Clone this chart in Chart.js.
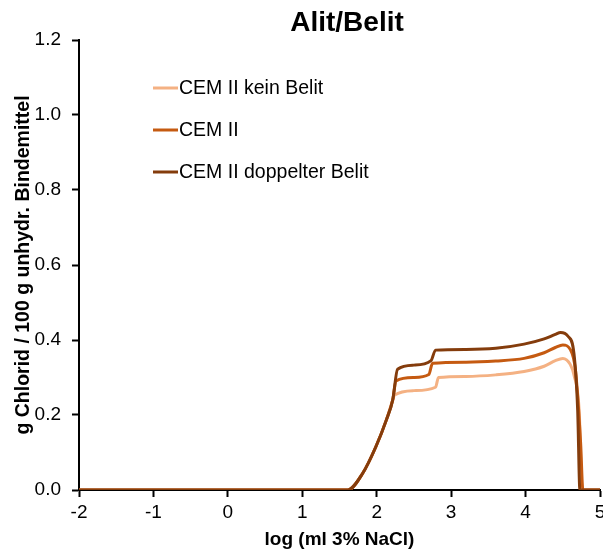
<!DOCTYPE html>
<html>
<head>
<meta charset="utf-8">
<script src="https://cdn.jsdelivr.net/npm/chart.js@4"></script>
<style>
  html, body { margin: 0; padding: 0; background: #fff; }
  #wrap { width: 603px; height: 551px; }
</style>
</head>
<body>
<div id="wrap"><canvas id="chlorid"></canvas></div>
<script>
// Chloridbindung ueber log(ml 3% NaCl)
const serienNamen = ["CEM II kein Belit", "CEM II", "CEM II doppelter Belit"];
const serienFarben = ["#F4B183", "#C55A11", "#843C0C"];

const xKeinBelit = [-2, 1.61, 1.81, 1.99, 2.13, 2.215, 2.24, 2.5, 2.79, 2.83, 3.2, 3.6, 3.98, 4.25, 4.4, 4.5, 4.6, 4.65, 4.72, 4.76, 5];
const yKeinBelit = [0, 0, 0.044, 0.116, 0.187, 0.24, 0.253, 0.265, 0.274, 0.30, 0.303, 0.307, 0.316, 0.33, 0.345, 0.351, 0.335, 0.307, 0.213, 0, 0];

const xCemII = [-2, 1.61, 1.81, 1.99, 2.13, 2.215, 2.26, 2.5, 2.70, 2.75, 3.2, 3.6, 3.98, 4.25, 4.4, 4.5, 4.6, 4.67, 4.74, 4.77, 5];
const yCemII = [0, 0, 0.044, 0.116, 0.187, 0.24, 0.291, 0.30, 0.308, 0.338, 0.341, 0.344, 0.351, 0.366, 0.38, 0.387, 0.375, 0.32, 0.124, 0, 0];

const xDoppelt = [-2, 1.61, 1.81, 1.99, 2.13, 2.215, 2.28, 2.5, 2.73, 2.79, 3.2, 3.6, 3.98, 4.25, 4.4, 4.47, 4.57, 4.65, 4.70, 4.73, 5];
const yDoppelt = [0, 0, 0.044, 0.116, 0.187, 0.24, 0.322, 0.333, 0.345, 0.373, 0.375, 0.378, 0.389, 0.403, 0.415, 0.42, 0.41, 0.364, 0.213, 0, 0];

const xTicks = [-2, -1, 0, 1, 2, 3, 4, 5];
const yTicks = [0, 0.2, 0.4, 0.6, 0.8, 1.0, 1.2];

const schrift = "'Liberation Sans', Arial, sans-serif";

function punkte(xs, ys) {
  return xs.map((x, i) => ({ x: x, y: ys[i] }));
}

// Titel und Legende direkt auf die Flaeche zeichnen
const beschriftung = {
  id: 'beschriftung',
  afterDraw(chart) {
    const ctx = chart.ctx;
    ctx.save();
    ctx.fillStyle = '#000';
    ctx.font = 'bold 28px ' + schrift;
    ctx.textAlign = 'center';
    ctx.textBaseline = 'middle';
    ctx.fillText('Alit/Belit', 347, 23);

    ctx.font = '19.5px ' + schrift;
    ctx.textAlign = 'left';
    chart.data.datasets.forEach((ds, i) => {
      const y = 88 + i * 42;
      ctx.strokeStyle = ds.borderColor;
      ctx.lineWidth = 3;
      ctx.beginPath();
      ctx.moveTo(153, y);
      ctx.lineTo(178, y);
      ctx.stroke();
      ctx.fillStyle = '#000';
      ctx.fillText(ds.label, 179, y + 1);
    });
    ctx.restore();
  }
};

const datensaetze = [
  [xKeinBelit, yKeinBelit],
  [xCemII, yCemII],
  [xDoppelt, yDoppelt]
].map((s, i) => ({
  label: serienNamen[i],
  data: punkte(s[0], s[1]),
  borderColor: serienFarben[i],
  backgroundColor: serienFarben[i],
  borderWidth: 3,
  pointRadius: 0,
  fill: false,
  cubicInterpolationMode: 'monotone',
  order: 2 - i
}));

new Chart(document.getElementById('chlorid'), {
  type: 'line',
  data: { datasets: datensaetze },
  options: {
    responsive: true,
    maintainAspectRatio: false,
    animation: false,
    layout: { padding: { top: 40, right: 3, left: 0, bottom: 0 } },
    plugins: {
      legend: { display: false },
      tooltip: { enabled: false }
    },
    scales: {
      x: {
        type: 'linear',
        min: -2,
        max: 5,
        afterBuildTicks(scale) { scale.ticks = xTicks.map(v => ({ value: v })); },
        afterFit(scale) { scale.height = 61; scale.paddingLeft = 0; scale.paddingRight = 0; },
        grid: { display: true, drawOnChartArea: false, drawTicks: true, tickLength: 7, tickColor: '#000', tickWidth: 2 },
        border: { display: true, color: '#000', width: 2 },
        ticks: { color: '#000', font: { family: schrift, size: 19 }, padding: 4, maxRotation: 0 },
        title: {
          display: true,
          text: 'log (ml 3% NaCl)',
          color: '#000',
          font: { family: schrift, size: 19, weight: 'bold' },
          padding: { top: 0, bottom: 0 }
        }
      },
      y: {
        min: 0,
        max: 1.2,
        afterBuildTicks(scale) { scale.ticks = yTicks.map(v => ({ value: v })); },
        afterFit(scale) { scale.width = 79; },
        grid: { display: true, drawOnChartArea: false, drawTicks: true, tickLength: 7, tickColor: '#000', tickWidth: 2 },
        border: { display: true, color: '#000', width: 2 },
        ticks: {
          color: '#000',
          font: { family: schrift, size: 19 },
          padding: 11,
          callback: v => v.toFixed(1)
        },
        title: {
          display: true,
          text: 'g Chlorid / 100 g unhydr. Bindemittel',
          color: '#000',
          font: { family: schrift, size: 19.5, weight: 'bold' },
          padding: { top: 12, bottom: 0 }
        }
      }
    }
  },
  plugins: [beschriftung]
});
</script>
</body>
</html>
